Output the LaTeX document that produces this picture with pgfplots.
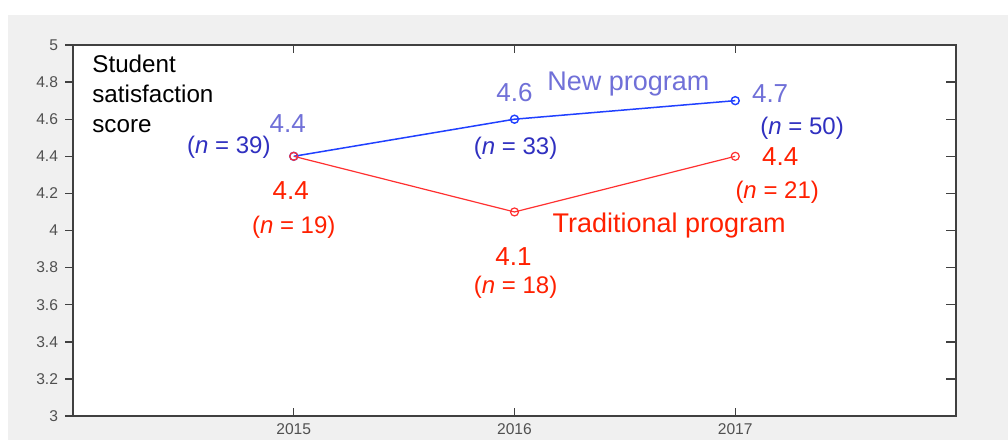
\documentclass[border=0pt]{standalone}
\usepackage{pgfplots}
\pgfplotsset{compat=1.18}
\usepackage{fontspec}
\setmainfont{Liberation Sans}
\definecolor{bgray}{HTML}{F0F0F0}
\definecolor{axgray}{HTML}{404040}
\definecolor{tickgray}{HTML}{505050}
\definecolor{lineblue}{HTML}{2040FF}
\definecolor{linered}{HTML}{FF3030}
\definecolor{lblue}{HTML}{7070D8}
\definecolor{dblue}{HTML}{3030C0}
\definecolor{tred}{HTML}{FF2000}
\begin{document}
\begin{tikzpicture}
\path[use as bounding box] (0,0) rectangle (504pt,220pt);
\fill[white] (0,0) rectangle (504pt,220pt);
\fill[bgray] (4pt,0) rectangle (504pt,212.5pt);
\pgfplotsset{
  base/.style={
    scale only axis, width=441.5pt, height=185.5pt,
    at={(36.5pt,12pt)}, anchor=south west,
    xmin=2014, xmax=2018, ymin=3, ymax=5,
    axis line style={axgray, line width=0.7pt},
    major tick style={axgray, line width=0.7pt},
    major tick length=4pt,
    tick label style={font=\fontsize{7.8}{9}\selectfont, text=tickgray},
    /pgf/number format/assume math mode=true,
    /pgf/number format/1000 sep={},
  }
}
\begin{axis}[base,
  axis background/.style={fill=white},
  xtick={2015,2016,2017}, xtick pos=both, xtick align=inside,
  ytick={3,3.2,3.4,3.6,3.8,4,4.2,4.4,4.6,4.8,5},
  ytick pos=left, ytick align=outside,
  yticklabel style={/pgf/number format/.cd, fixed, precision=1},
  xticklabel style={yshift=-1.5pt, inner ysep=2pt},
  clip=false,
]
\addplot[lineblue, line width=0.75pt, mark=o, mark size=2pt, mark options={line width=0.7pt}]
  coordinates {(2015,4.4) (2016,4.6) (2017,4.7)};
\addplot[linered, line width=0.6pt, mark=o, mark size=2pt, mark options={line width=0.6pt}]
  coordinates {(2015,4.4) (2016,4.1) (2017,4.4)};

\node[anchor=north west, align=left, font=\fontsize{12.1}{15}\selectfont, inner sep=0pt]
  at (axis cs:2014.086,4.95) {Student\\satisfaction\\score};

% New program (blue)
\node[text=lblue, font=\fontsize{13}{15}\selectfont] at (axis cs:2014.973,4.574) {4.4};
\node[text=dblue, font=\fontsize{12}{14}\selectfont] at (axis cs:2014.706,4.45) {(\textit{n} = 39)};
\node[text=lblue, font=\fontsize{13}{15}\selectfont] at (axis cs:2016.0,4.741) {4.6};
\node[text=dblue, font=\fontsize{12}{14}\selectfont] at (axis cs:2016.005,4.445) {(\textit{n} = 33)};
\node[text=lblue, font=\fontsize{13}{15}\selectfont] at (axis cs:2017.158,4.736) {4.7};
\node[text=dblue, font=\fontsize{12}{14}\selectfont] at (axis cs:2017.303,4.553) {(\textit{n} = 50)};
\node[text=lblue, font=\fontsize{13.5}{15}\selectfont] at (axis cs:2016.516,4.79) {New program};

% Traditional program (red)
\node[text=tred, font=\fontsize{13}{15}\selectfont] at (axis cs:2014.986,4.213) {4.4};
\node[text=tred, font=\fontsize{12}{14}\selectfont] at (axis cs:2015.0,4.019) {(\textit{n} = 19)};
\node[text=tred, font=\fontsize{13}{15}\selectfont] at (axis cs:2015.995,3.857) {4.1};
\node[text=tred, font=\fontsize{12}{14}\selectfont] at (axis cs:2016.005,3.696) {(\textit{n} = 18)};
\node[text=tred, font=\fontsize{13}{15}\selectfont] at (axis cs:2017.204,4.396) {4.4};
\node[text=tred, font=\fontsize{12}{14}\selectfont] at (axis cs:2017.19,4.208) {(\textit{n} = 21)};
\node[text=tred, font=\fontsize{13.5}{15}\selectfont] at (axis cs:2016.701,4.025) {Traditional program};
\end{axis}
\begin{axis}[base,
  xtick=\empty,
  ytick={3,3.2,3.4,3.6,3.8,4,4.2,4.4,4.6,4.8,5},
  ytick pos=right, ytick align=inside, yticklabels={},
  major tick length=5pt,
]
\addplot[draw=none] coordinates {(2015,4)};
\end{axis}
\end{tikzpicture}
\end{document}
